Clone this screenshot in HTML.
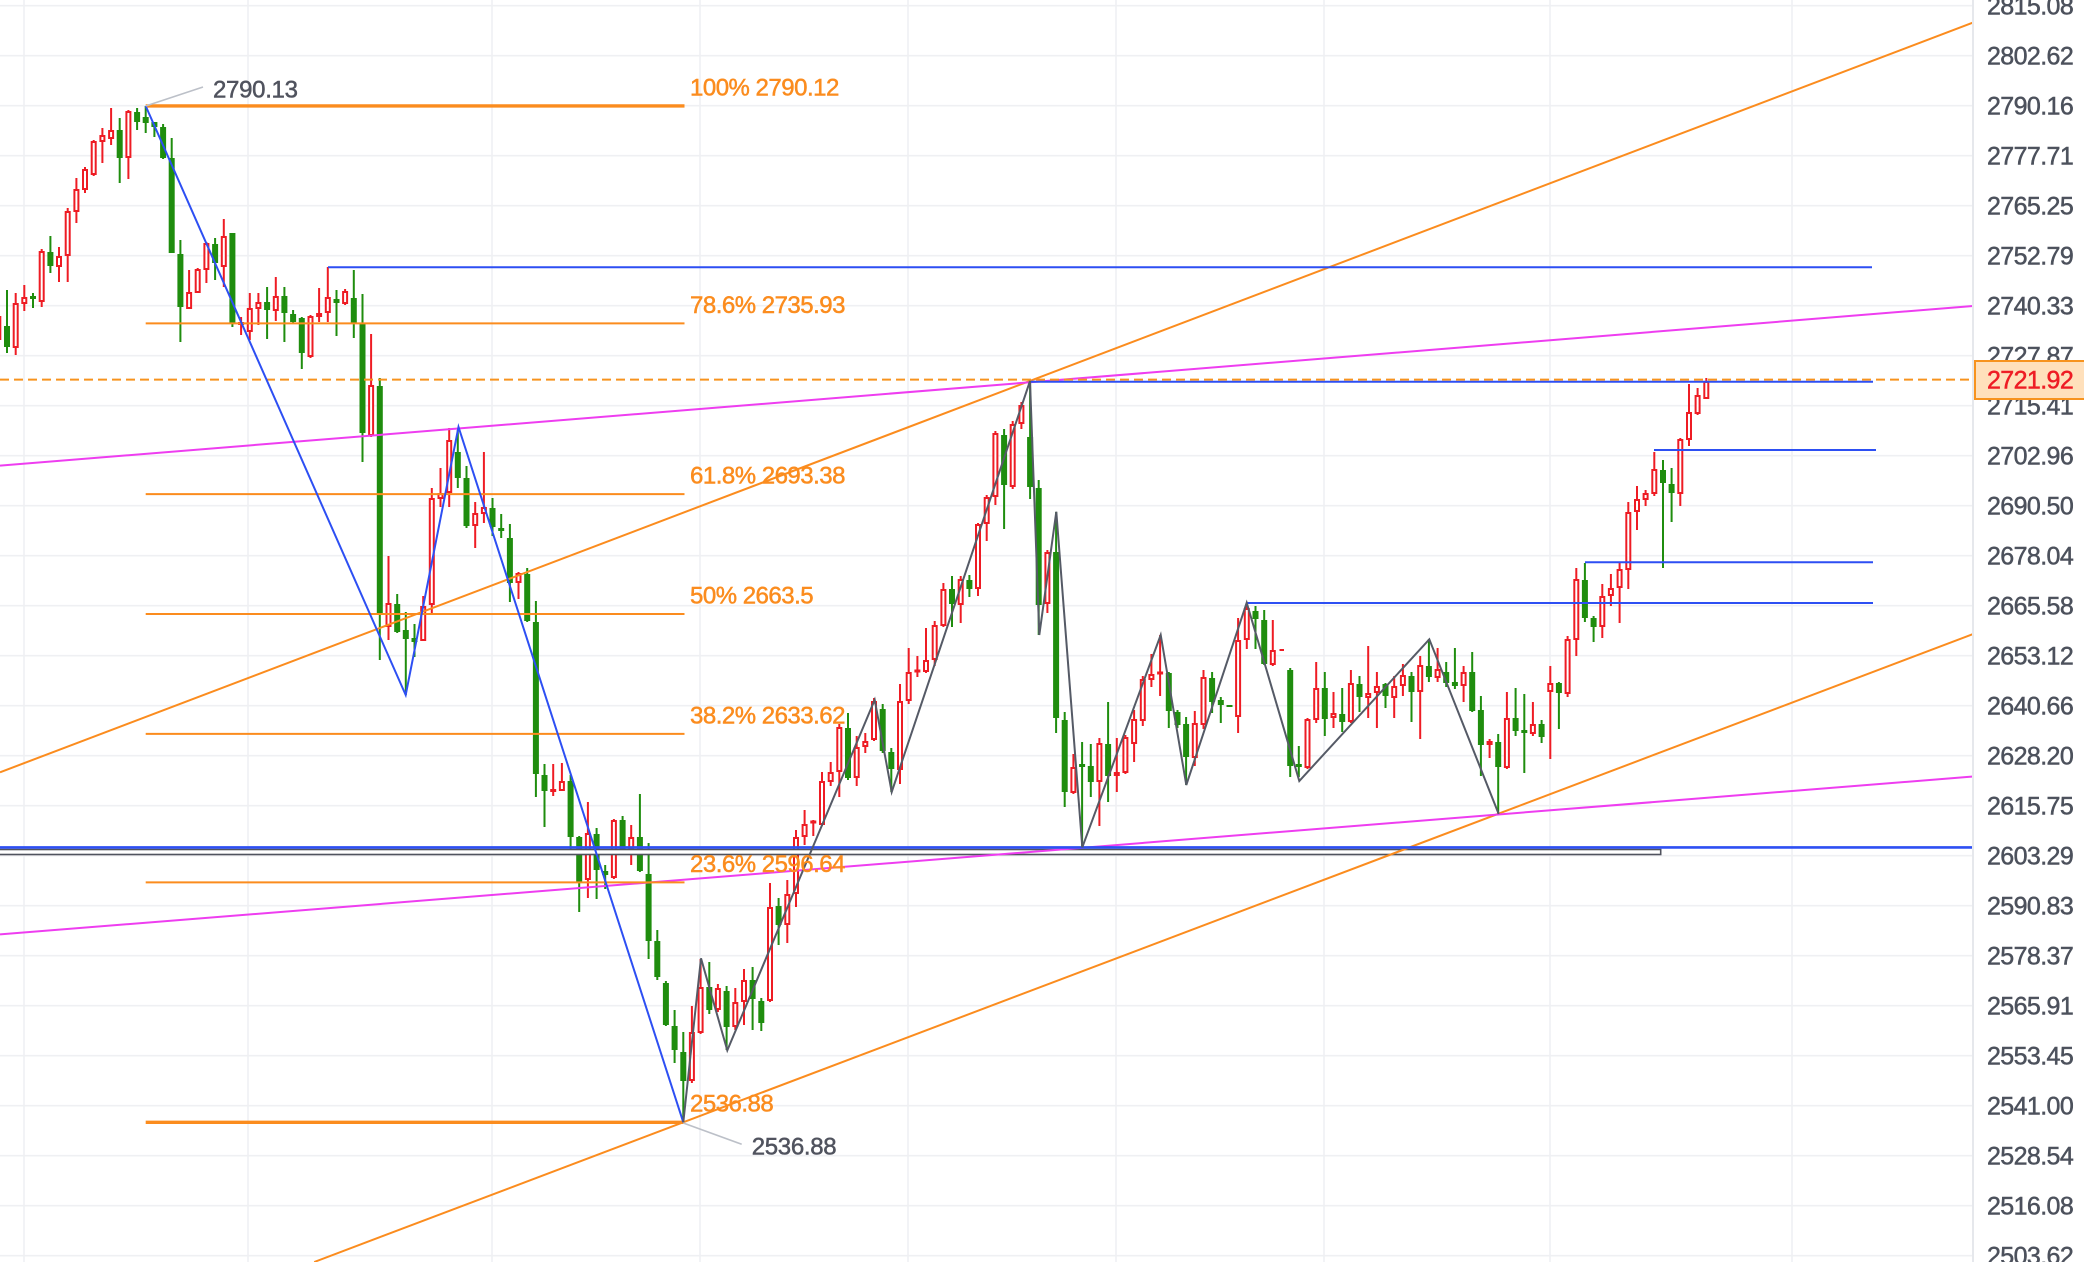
<!DOCTYPE html>
<html><head><meta charset="utf-8"><style>
html,body{margin:0;padding:0;background:#fff;}
svg{display:block;}
text{font-family:"Liberation Sans",sans-serif;}
</style></head><body>
<svg width="2084" height="1262" viewBox="0 0 2084 1262" xmlns="http://www.w3.org/2000/svg">
<rect width="2084" height="1262" fill="#fff"/>
<!-- grid -->
<path d="M0 5.7H1973M0 55.7H1973M0 105.7H1973M0 155.7H1973M0 205.7H1973M0 255.7H1973M0 305.7H1973M0 355.7H1973M0 405.7H1973M0 455.7H1973M0 505.7H1973M0 555.7H1973M0 605.7H1973M0 655.7H1973M0 705.7H1973M0 755.7H1973M0 805.7H1973M0 855.7H1973M0 905.7H1973M0 955.7H1973M0 1005.7H1973M0 1055.7H1973M0 1105.7H1973M0 1155.7H1973M0 1205.7H1973M0 1255.7H1973M24 0V1262M248 0V1262M492 0V1262M700 0V1262M908 0V1262M1116 0V1262M1324 0V1262M1550 0V1262M1792 0V1262" stroke="#eff0f3" stroke-width="1.6" fill="none"/>

<!-- green candles -->
<path stroke="#1f8d0e" stroke-width="2" fill="none" d="M7 290V353M33 293V308M50.4 236V273M119.7 118V183M137.1 108V130M145.7 106V133M154.4 122V137M163.1 124V159M171.7 138V253M180.4 240V342M215.1 238V280M232.4 233V327M267.1 287V339M284.4 287V342M293.1 310V323M301.8 317V369M336.5 290V336M353.8 270V338M362.5 294V462M379.8 378V660M397.2 594V633M405.8 612V695M414.5 624V657M457.8 430V488M466.5 466V528M492.5 498V536M501.2 514V538M509.9 524V602M527.2 568V622M535.9 601V797M544.5 764V827M570.6 775V854M579.2 836V912M596.6 828V899M605.2 865V889M622.6 816V853M639.9 794V872M648.6 843V959M657.3 930V980M665.9 981V1026M674.6 1010V1063M683.3 1032V1122M709.3 962V1014M726.6 986V1050M752.6 967V1030M761.3 998V1031M778.6 898V945M848 713V780M882.7 704V753M891.3 748V792M952 576V627M969.4 575V597M1004.1 429V529M1030.1 381V499M1038.7 480V635M1056.1 512V733M1064.7 712V807M1082.1 742V847M1090.8 744V797M1108.1 702V802M1168.8 672V728M1177.5 710V728M1186.1 717V785M1212.1 672V713M1220.8 697V723M1255.5 606V649M1264.2 610V665M1290.2 668V777M1298.8 746V777M1324.8 672V736M1342.2 688V732M1359.5 676V712M1385.5 683V708M1411.5 672V722M1428.9 639V682M1446.2 662V687M1454.9 648V689M1472.2 652V712M1480.9 696V776M1498.2 734V814M1515.6 688V736M1524.3 694V773M1541.6 720V743M1558.9 682V729M1584.9 563V622M1593.6 616V642M1663 460V568M1671.6 468V522"/>
<path fill="#1f8d0e" d="M4 326h6v21h-6zM30 296h6v3h-6zM47.4 252h6v14h-6zM116.7 130h6v28h-6zM134.1 112h6v10h-6zM142.7 117h6v6h-6zM151.4 122h6v5h-6zM160.1 127h6v31h-6zM168.7 158h6v95h-6zM177.4 254h6v53h-6zM212.1 244h6v19h-6zM229.4 233h6v90h-6zM264.1 302h6v8h-6zM281.4 296h6v17h-6zM290.1 314h6v8h-6zM298.8 318h6v35h-6zM333.5 299h6v4h-6zM350.8 298h6v25h-6zM359.5 323h6v110h-6zM376.8 386h6v227h-6zM394.2 604h6v28h-6zM402.8 630h6v9h-6zM411.5 638h6v4h-6zM454.8 452h6v26h-6zM463.5 478h6v48h-6zM489.5 508h6v19h-6zM498.2 528h6v3h-6zM506.9 538h6v45h-6zM524.2 574h6v47h-6zM532.9 622h6v152h-6zM541.5 775h6v16h-6zM567.6 781h6v56h-6zM576.2 837h6v45h-6zM593.6 834h6v36h-6zM602.2 871h6v4h-6zM619.6 820h6v29h-6zM636.9 837h6v34h-6zM645.6 874h6v67h-6zM654.3 941h6v36h-6zM662.9 983h6v42h-6zM671.6 1026h6v24h-6zM680.3 1052h6v29h-6zM706.3 987h6v23h-6zM723.6 991h6v36h-6zM749.6 980h6v19h-6zM758.3 1001h6v22h-6zM775.6 906h6v19h-6zM845 728h6v50h-6zM879.7 709h6v42h-6zM888.3 752h6v17h-6zM949 589h6v15h-6zM966.4 580h6v9h-6zM1001.1 435h6v50h-6zM1027.1 437h6v50h-6zM1035.7 488h6v117h-6zM1053.1 552h6v166h-6zM1061.7 720h6v72h-6zM1079.1 764h6v3h-6zM1087.8 766h6v16h-6zM1105.1 744h6v32h-6zM1165.8 673h6v38h-6zM1174.5 712h6v13h-6zM1183.1 724h6v33h-6zM1209.1 678h6v24h-6zM1217.8 700h6v5h-6zM1226.5 705h6v2h-6zM1252.5 611h6v8h-6zM1261.2 620h6v44h-6zM1287.2 670h6v96h-6zM1295.8 764h6v3h-6zM1321.8 688h6v31h-6zM1339.2 714h6v8h-6zM1356.5 684h6v13h-6zM1382.5 684h6v12h-6zM1408.5 676h6v16h-6zM1425.9 666h6v11h-6zM1443.2 672h6v11h-6zM1451.9 682h6v4h-6zM1469.2 672h6v39h-6zM1477.9 710h6v35h-6zM1495.2 742h6v25h-6zM1512.6 718h6v13h-6zM1521.3 730h6v3h-6zM1538.6 724h6v13h-6zM1555.9 683h6v10h-6zM1581.9 580h6v38h-6zM1590.6 618h6v9h-6zM1660 470h6v13h-6zM1668.6 484h6v9h-6z"/>

<!-- red candles -->
<path stroke="#ee1c24" stroke-width="2" fill="none" d="M-1.7 305V350M15.7 293V355M24.3 285V311M41.7 249V307M59 247V282M67.7 208V282M76.4 178V223M85 167V193M93.7 140V176M102.4 128V163M111.1 108V145M128.4 110V179M189.1 270V309M197.7 268V293M206.4 242V283M223.8 219V287M241.1 317V335M249.8 293V340M258.4 293V325M275.8 277V321M310.5 315V358M319.1 288V322M327.8 267V322M345.1 289V305M371.1 334V437M388.5 556V640M423.2 596V641M431.8 488V613M440.5 468V507M449.2 428V507M475.2 502V548M483.9 452V523M518.5 572V599M553.2 764V796M561.9 763V791M587.9 802V898M613.9 819V879M631.2 825V865M691.9 1006V1083M700.6 959V1034M717.9 984V1012M735.3 988V1030M744 969V1025M770 883V1002M787.3 880V943M796 830V907M804.6 810V845M813.3 820V836M822 772V826M830.7 762V786M839.3 724V797M856.7 736V786M865.3 733V753M874 698V741M900 684V784M908.7 648V704M917.4 656V677M926 628V673M934.7 621V666M943.4 583V627M960.7 576V623M978 523V596M986.7 495V541M995.4 431V505M1012.7 421V489M1021.4 402V429M1047.4 550V613M1073.4 754V794M1099.4 738V826M1116.8 738V792M1125.4 735V774M1134.1 710V762M1142.8 676V726M1151.4 654V687M1160.1 635V696M1194.8 711V766M1203.5 670V729M1238.1 618V733M1246.8 603V649M1272.8 620V666M1279.5 650H1284M1307.5 718V769M1316.2 662V723M1333.5 692V728M1350.9 670V723M1368.2 646V718M1376.9 672V728M1394.2 676V718M1402.9 664V696M1420.2 656V739M1437.6 648V682M1463.6 666V702M1489.6 739V758M1506.9 692V769M1532.9 702V736M1550.3 666V759M1567.6 636V697M1576.3 568V656M1602.3 584V638M1610.9 574V606M1619.6 563V623M1628.3 502V589M1637 486V530M1645.6 490V506M1654.3 452V496M1680.3 438V506M1689 384V446M1697.6 388V415M1706.3 378V399"/>
<path stroke="#ee1c24" stroke-width="2" fill="#fff" d="M-3.7 317h4v22h-4zM13.7 304h4v43h-4zM22.3 298h4v5h-4zM39.7 252h4v49h-4zM57 257h4v9h-4zM65.7 212h4v43h-4zM74.4 190h4v21h-4zM83 170h4v19h-4zM91.7 142h4v32h-4zM100.4 136h4v5h-4zM109.1 131h4v7h-4zM126.4 112h4v45h-4zM187.1 293h4v15h-4zM195.7 270h4v22h-4zM204.4 244h4v25h-4zM221.8 237h4v29h-4zM239.1 323h4v1h-4zM247.8 309h4v22h-4zM256.4 303h4v5h-4zM273.8 297h4v13h-4zM308.5 317h4v39h-4zM317.1 314h4v2h-4zM325.8 298h4v14h-4zM343.1 292h4v11h-4zM369.1 386h4v49h-4zM386.5 604h4v22h-4zM421.2 607h4v33h-4zM429.8 499h4v105h-4zM438.5 494h4v4h-4zM447.2 441h4v51h-4zM473.2 514h4v11h-4zM481.9 508h4v5h-4zM516.5 574h4v8h-4zM551.2 790h4v1h-4zM559.9 782h4v8h-4zM585.9 834h4v45h-4zM611.9 821h4v56h-4zM629.2 838h4v10h-4zM689.9 1033h4v47h-4zM698.6 988h4v44h-4zM715.9 989h4v20h-4zM733.3 1003h4v23h-4zM742 981h4v20h-4zM768 908h4v92h-4zM785.3 895h4v29h-4zM794 838h4v55h-4zM802.6 825h4v11h-4zM811.3 821.5h4v1h-4zM820 782h4v42h-4zM828.7 773h4v8h-4zM837.3 728h4v43h-4zM854.7 748h4v29h-4zM863.3 742h4v4h-4zM872 702h4v37h-4zM898 702h4v67h-4zM906.7 673h4v27h-4zM915.4 670.5h4v1h-4zM924 661h4v10h-4zM932.7 626h4v33h-4zM941.4 590h4v35h-4zM958.7 580h4v24h-4zM976 525h4v63h-4zM984.7 498h4v25h-4zM993.4 434h4v62h-4zM1010.7 425h4v61h-4zM1019.4 406h4v17h-4zM1045.4 553h4v50h-4zM1071.4 768h4v24h-4zM1097.4 744h4v37h-4zM1114.8 773h4v2h-4zM1123.4 738h4v34h-4zM1132.1 720h4v23h-4zM1140.8 680h4v40h-4zM1149.4 675h4v4h-4zM1158.1 672.5h4v1h-4zM1192.8 724h4v33h-4zM1201.5 678h4v46h-4zM1236.1 641h4v75h-4zM1244.8 609h4v30h-4zM1270.8 651h4v13h-4zM1305.5 720h4v47h-4zM1314.2 689h4v30h-4zM1331.5 714h4v3h-4zM1348.9 684h4v37h-4zM1366.2 694h4v3h-4zM1374.9 687h4v5h-4zM1392.2 687h4v10h-4zM1400.9 676h4v9h-4zM1418.2 666h4v25h-4zM1435.6 670h4v7h-4zM1461.6 673h4v12h-4zM1487.6 742h4v2h-4zM1504.9 719h4v48h-4zM1530.9 725h4v8h-4zM1548.3 684h4v7h-4zM1565.6 640h4v53h-4zM1574.3 580h4v59h-4zM1600.3 597h4v29h-4zM1608.9 589h4v6h-4zM1617.6 570h4v17h-4zM1626.3 513h4v56h-4zM1635 500h4v11h-4zM1643.6 494h4v5h-4zM1652.3 470h4v23h-4zM1678.3 440h4v53h-4zM1687 413h4v26h-4zM1695.6 396h4v17h-4zM1704.3 382h4v16h-4z"/>

<!-- rectangle -->
<rect x="-2" y="849.5" width="1662.7" height="5" fill="#fff" stroke="#50535e" stroke-width="1.6"/>

<!-- channels -->
<line x1="0" y1="772.3" x2="1973" y2="22.6" stroke="#fb8c1e" stroke-width="2"/>
<line x1="314.2" y1="1262" x2="1973" y2="634.1" stroke="#fb8c1e" stroke-width="2"/>
<line x1="0" y1="465.6" x2="1973" y2="306" stroke="#ee3df0" stroke-width="2"/>
<line x1="0" y1="934.4" x2="1973" y2="776.5" stroke="#ee3df0" stroke-width="2"/>

<!-- fib -->
<g stroke="#fb8c1e" fill="none">
<path d="M145.7 105.9H684.5M145.7 1122.3H684.5" stroke-width="3.4"/>
<path d="M145.7 323.4H684.5M145.7 494.1H684.5M145.7 614H684.5M145.7 733.9H684.5M145.7 882.4H684.5" stroke-width="2"/>
</g>

<!-- blue horizontals -->
<g stroke="#2d4ff3" stroke-width="2" fill="none">
<path d="M328 267.3H1872M1030 381.7H1873M1654 450H1876M1585 562.3H1873M1247 603H1873"/>
<path d="M0 847.4H1973" stroke-width="2.6"/>
</g>

<!-- dashed current price -->
<line x1="0" y1="379.6" x2="1975" y2="379.6" stroke="#f7931e" stroke-width="2" stroke-dasharray="9 5"/>

<!-- zigzags -->
<polyline points="145.7,106 405.7,695 458.5,427 683.3,1122.3" fill="none" stroke="#2d4ff3" stroke-width="2"/>
<polyline points="683.3,1122.3 701,958.3 727.3,1050.4 874.7,699.9 891.7,792 1030,381 1039.3,635 1056.3,511.7 1082.3,847.3 1160.7,635 1186.3,785 1246.7,602.7 1299.3,781 1429.3,639.3 1498.7,814" fill="none" stroke="#555a66" stroke-width="2" stroke-linejoin="miter"/>

<!-- connectors -->
<line x1="145.7" y1="106" x2="203" y2="87" stroke="#bcc0c8" stroke-width="1.6"/>
<line x1="683.3" y1="1123" x2="741.7" y2="1144.3" stroke="#bcc0c8" stroke-width="1.6"/>

<!-- fib labels -->
<g fill="#fb8c1e" stroke="#fb8c1e" stroke-width="0.5" font-size="24" letter-spacing="-0.5">
<text x="690" y="95.5">100% 2790.12</text>
<text x="690" y="313">78.6% 2735.93</text>
<text x="690" y="483.7">61.8% 2693.38</text>
<text x="690" y="603.6">50% 2663.5</text>
<text x="690" y="723.5">38.2% 2633.62</text>
<text x="690" y="872">23.6% 2596.64</text>
<text x="690" y="1111.7">2536.88</text>
</g>
<g fill="#50535e" stroke="#50535e" stroke-width="0.5" font-size="24" letter-spacing="-0.3">
<text x="213" y="97.7">2790.13</text>
<text x="751.7" y="1154.3">2536.88</text>
</g>

<!-- price axis -->
<rect x="1974" y="0" width="110" height="1262" fill="#fff"/>
<line x1="1973" y1="0" x2="1973" y2="1262" stroke="#e6e8ec" stroke-width="2"/>
<g fill="#4c515c" stroke="#4c515c" stroke-width="0.5" font-size="25" letter-spacing="-0.6">
<text x="1987" y="14.7">2815.08</text>
<text x="1987" y="64.7">2802.62</text>
<text x="1987" y="114.7">2790.16</text>
<text x="1987" y="164.7">2777.71</text>
<text x="1987" y="214.7">2765.25</text>
<text x="1987" y="264.7">2752.79</text>
<text x="1987" y="314.7">2740.33</text>
<text x="1987" y="364.7">2727.87</text>
<text x="1987" y="414.7">2715.41</text>
<text x="1987" y="464.7">2702.96</text>
<text x="1987" y="514.7">2690.50</text>
<text x="1987" y="564.7">2678.04</text>
<text x="1987" y="614.7">2665.58</text>
<text x="1987" y="664.7">2653.12</text>
<text x="1987" y="714.7">2640.66</text>
<text x="1987" y="764.7">2628.20</text>
<text x="1987" y="814.7">2615.75</text>
<text x="1987" y="864.7">2603.29</text>
<text x="1987" y="914.7">2590.83</text>
<text x="1987" y="964.7">2578.37</text>
<text x="1987" y="1014.7">2565.91</text>
<text x="1987" y="1064.7">2553.45</text>
<text x="1987" y="1114.7">2541.00</text>
<text x="1987" y="1164.7">2528.54</text>
<text x="1987" y="1214.7">2516.08</text>
<text x="1987" y="1264.7">2503.62</text>
</g>
<rect x="1975" y="361" width="112" height="38" fill="#ffe0bb" stroke="#f7931e" stroke-width="2"/>
<text x="1987" y="388.6" fill="#ee1c24" stroke="#ee1c24" stroke-width="0.5" font-size="25" letter-spacing="-0.6">2721.92</text>
</svg>
</body></html>
